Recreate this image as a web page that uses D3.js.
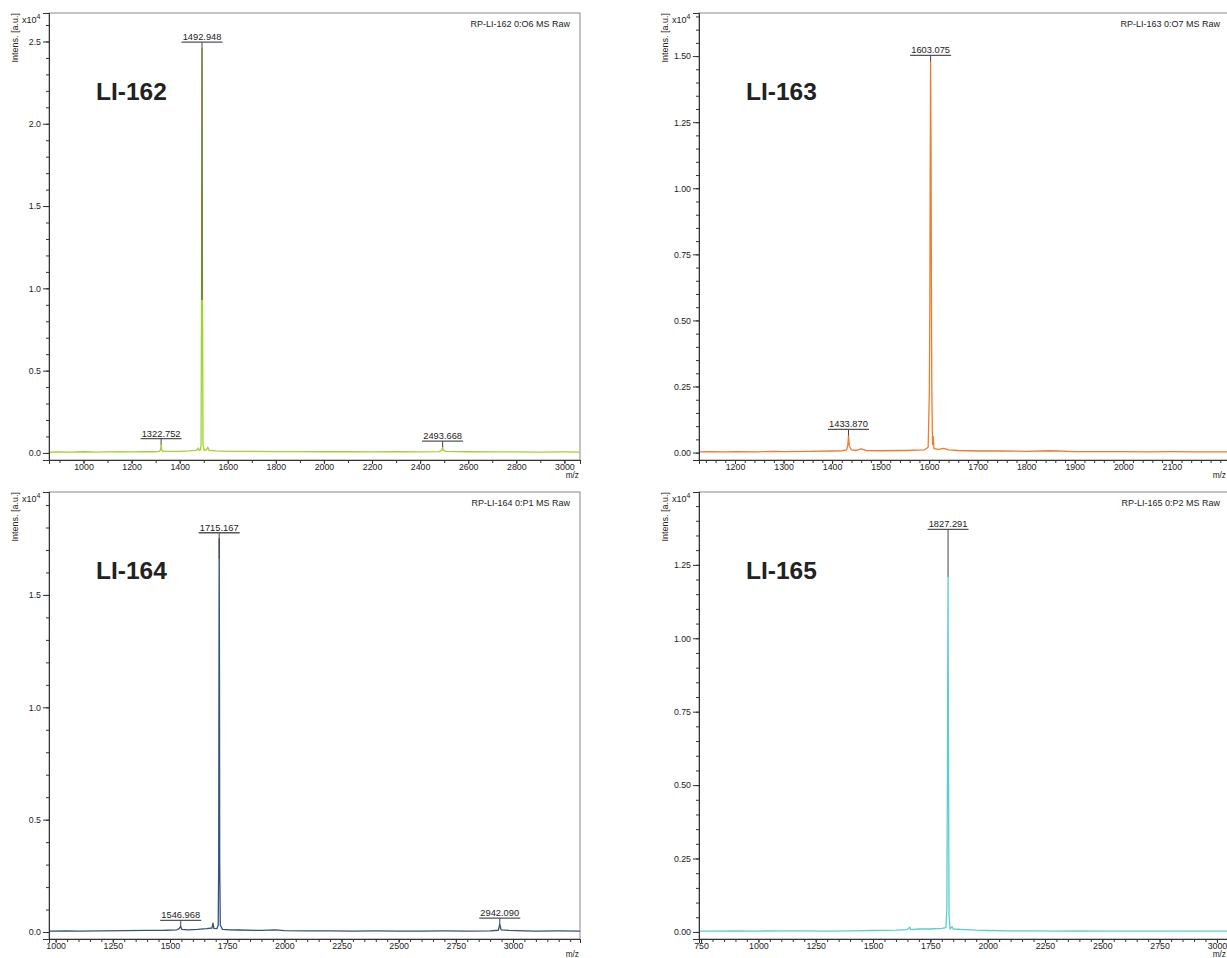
<!DOCTYPE html>
<html>
<head>
<meta charset="utf-8">
<script src="https://cdn.jsdelivr.net/npm/d3@7"></script>
<style>
  body { margin: 0; background: #fff; }
  svg text { font-family: "Liberation Sans", Arial, sans-serif; fill: #222; }
</style>
</head>
<body>
<div id="chart"></div>
<script>
// ---- data, intensities in x10^4 a.u. ----
var names = ["LI-162", "LI-163", "LI-164", "LI-165"];
var titles = ["RP-LI-162 0:O6 MS Raw", "RP-LI-163 0:O7 MS Raw", "RP-LI-164 0:P1 MS Raw", "RP-LI-165 0:P2 MS Raw"];
var colors = ["#a3d12e", "#f07b2c", "#34547a", "#55d0cf"];

var spec162 = [[857,0.005],[900,0.006],[950,0.005],[1000,0.007],[1050,0.005],[1100,0.006],[1150,0.007],[1200,0.006],
  [1250,0.008],[1290,0.007],[1316,0.009],[1320,0.02],[1322.8,0.05],[1325,0.018],[1330,0.01],[1360,0.009],[1400,0.01],
  [1440,0.012],[1470,0.015],[1478,0.03],[1481,0.014],[1487,0.02],[1489,0.06],[1490.8,0.93],[1492.9,2.46],[1495,0.93],
  [1497,0.05],[1502,0.015],[1512,0.02],[1517,0.035],[1522,0.016],[1550,0.012],[1600,0.01],[1700,0.009],[1800,0.008],
  [1900,0.008],[2000,0.007],[2100,0.007],[2200,0.006],[2300,0.007],[2400,0.006],[2480,0.008],[2490,0.015],
  [2493.7,0.035],[2497,0.014],[2510,0.009],[2550,0.008],[2600,0.007],[2700,0.006],[2800,0.006],[2900,0.005],
  [3000,0.006],[3065,0.005]];
var spec163 = [[1126,0.003],[1150,0.004],[1180,0.003],[1200,0.004],[1250,0.003],[1280,0.005],[1300,0.004],[1350,0.005],
  [1400,0.006],[1420,0.007],[1430,0.01],[1432.5,0.03],[1433.9,0.065],[1435.5,0.025],[1440,0.01],[1450,0.008],
  [1460,0.014],[1470,0.008],[1500,0.007],[1550,0.008],[1590,0.01],[1598,0.02],[1600.5,0.23],[1601.5,0.57],
  [1602.3,1.1],[1603.1,1.48],[1604,1.1],[1604.8,0.57],[1605.6,0.23],[1607,0.03],[1608.5,0.06],[1610,0.015],
  [1620,0.012],[1630,0.016],[1640,0.01],[1660,0.008],[1700,0.006],[1750,0.006],[1800,0.005],[1850,0.007],
  [1900,0.004],[1950,0.004],[2000,0.004],[2050,0.003],[2100,0.004],[2150,0.003],[2220,0.003]];
var spec164 = [[971,0.004],[1050,0.005],[1100,0.004],[1200,0.005],[1300,0.006],[1400,0.007],[1480,0.008],[1530,0.01],
  [1540,0.015],[1547,0.025],[1552,0.012],[1580,0.01],[1620,0.012],[1660,0.015],[1684,0.018],[1688,0.04],[1692,0.016],
  [1705,0.015],[1711,0.03],[1713,0.3],[1714,1.0],[1715.2,1.75],[1716.4,1.19],[1717.5,0.3],[1720,0.03],[1730,0.012],
  [1760,0.01],[1800,0.009],[1900,0.007],[1960,0.01],[2000,0.006],[2100,0.005],[2200,0.005],[2300,0.004],[2400,0.005],
  [2500,0.004],[2600,0.004],[2700,0.005],[2800,0.004],[2900,0.005],[2936,0.008],[2942.1,0.035],[2948,0.01],
  [2980,0.007],[3050,0.005],[3100,0.004],[3200,0.005],[3293,0.004]];
var spec165 = [[741,0.003],[800,0.003],[900,0.004],[1000,0.003],[1100,0.004],[1200,0.004],[1300,0.003],[1400,0.004],
  [1500,0.005],[1600,0.006],[1650,0.008],[1660,0.016],[1665,0.008],[1700,0.01],[1750,0.01],[1800,0.012],[1818,0.015],
  [1822,0.08],[1824.5,0.53],[1827.3,1.21],[1829.5,0.53],[1831.5,0.06],[1836,0.01],[1845,0.018],[1850,0.01],
  [1900,0.008],[1950,0.006],[2000,0.005],[2100,0.004],[2200,0.004],[2300,0.003],[2400,0.004],[2500,0.003],
  [2600,0.003],[2700,0.003],[2800,0.003],[2900,0.003],[3000,0.003],[3057,0.003]];

var peakMz162 = [1322.752, 1492.948, 2493.668], peakTop162 = [0.05, 2.46, 0.035], stemEnd162 = [0.05, 0.93, 0.035];
var peakMz163 = [1433.870, 1603.075], peakTop163 = [0.065, 1.48], stemEnd163 = [0.065, 1.48];
var peakMz164 = [1546.968, 1715.167, 2942.090], peakTop164 = [0.025, 1.75, 0.035], stemEnd164 = [0.025, 1.66, 0.035];
var peakMz165 = [1827.291], peakTop165 = [1.35], stemEnd165 = [1.21];

var xTicks162 = [1000, 1200, 1400, 1600, 1800, 2000, 2200, 2400, 2600, 2800, 3000];
var xTicks163 = [1200, 1300, 1400, 1500, 1600, 1700, 1800, 1900, 2000, 2100];
var xTicks164 = [1000, 1250, 1500, 1750, 2000, 2250, 2500, 2750, 3000];
var xTicks165 = [750, 1000, 1250, 1500, 1750, 2000, 2250, 2500, 2750, 3000];
var yTicks162 = [0, 0.5, 1.0, 1.5, 2.0, 2.5];
var yTicks163 = [0, 0.25, 0.5, 0.75, 1.0, 1.25, 1.5];
var yTicks164 = [0, 0.5, 1.0, 1.5];
var yTicks165 = [0, 0.25, 0.5, 0.75, 1.0, 1.25];

// ---- layout ----
var svg = d3.select("#chart").append("svg")
  .attr("width", 1227).attr("height", 958);

var panels = [
  { spec: spec162, mz: peakMz162, top: peakTop162, stem: stemEnd162, xt: xTicks162, yt: yTicks162,
    xd: [856.5, 3065], yd: [-0.043, 2.673], xMinor: 100, yMinor: 0.1, fmt: ".1f", left: 49, row: 0 },
  { spec: spec163, mz: peakMz163, top: peakTop163, stem: stemEnd163, xt: xTicks163, yt: yTicks163,
    xd: [1125.8, 2220], yd: [-0.028, 1.663], xMinor: 20, yMinor: 0.05, fmt: ".2f", left: 699, row: 0 },
  { spec: spec164, mz: peakMz164, top: peakTop164, stem: stemEnd164, xt: xTicks164, yt: yTicks164,
    xd: [971, 3293], yd: [-0.031, 1.958], xMinor: 50, yMinor: 0.1, fmt: ".1f", left: 49, row: 1 },
  { spec: spec165, mz: peakMz165, top: peakTop165, stem: stemEnd165, xt: xTicks165, yt: yTicks165,
    xd: [741, 3057], yd: [-0.024, 1.498], xMinor: 50, yMinor: 0.05, fmt: ".2f", left: 699, row: 1 }
];

var plotW = 531;
var rowTop = [13, 492], rowAxis = [460, 939];

panels.forEach(function (p, i) {
  var top = rowTop[p.row], bottom = rowAxis[p.row];
  var x = d3.scaleLinear().domain(p.xd).range([p.left, p.left + plotW]);
  var y = d3.scaleLinear().domain(p.yd).range([bottom, top]);
  var g = svg.append("g");

  // frame: grey top/right, dark axes
  g.append("rect").attr("x", p.left).attr("y", top).attr("width", plotW).attr("height", bottom - top)
    .attr("fill", "none").attr("stroke", "#8a8a8a").attr("stroke-width", 1);

  // spectrum
  var line = d3.line().x(function (d) { return x(d[0]); }).y(function (d) { return y(d[1]); });
  g.append("path").datum(p.spec).attr("d", line)
    .attr("fill", "none").attr("stroke", colors[i]).attr("stroke-width", 1.3).attr("stroke-linejoin", "round");

  // y axis
  var yMinorVals = d3.range(0, p.yd[1], p.yMinor);
  g.append("g").attr("transform", "translate(" + p.left + ",0)")
    .call(d3.axisLeft(y).tickValues(yMinorVals).tickSize(3).tickFormat(""));
  g.append("g").attr("transform", "translate(" + p.left + ",0)")
    .call(d3.axisLeft(y).tickValues(p.yt).tickSize(6).tickPadding(2).tickFormat(d3.format(p.fmt)));

  // x axis
  var first = Math.ceil(p.xd[0] / p.xMinor) * p.xMinor;
  var xMinorVals = d3.range(first, p.xd[1], p.xMinor);
  g.append("g").attr("transform", "translate(0," + bottom + ")")
    .call(d3.axisBottom(x).tickValues(xMinorVals).tickSize(3).tickFormat(""));
  g.append("g").attr("transform", "translate(0," + bottom + ")")
    .call(d3.axisBottom(x).tickValues(p.xt).tickSize(4).tickPadding(0).tickFormat(d3.format("d")));

  g.selectAll(".domain").attr("stroke", "#333");
  g.selectAll(".tick line").attr("stroke", "#333");
  g.selectAll(".tick text").attr("font-size", "8.8px").attr("fill", "#222")
    .style("font-family", "'Liberation Sans', Arial, sans-serif");

  // peak labels
  p.mz.forEach(function (m, k) {
    var px = x(m), py = y(p.top[k]);
    var uy = py - 6;
    g.append("line").attr("x1", px).attr("x2", px).attr("y1", uy).attr("y2", Math.max(py, y(p.stem[k])))
      .attr("stroke", "#444").attr("stroke-width", 1);
    g.append("line").attr("x1", px - 20.5).attr("x2", px + 20.5).attr("y1", uy).attr("y2", uy)
      .attr("stroke", "#555").attr("stroke-width", 1.3);
    g.append("text").attr("x", px).attr("y", uy - 2).attr("text-anchor", "middle")
      .attr("font-size", "9.3px").text(d3.format(".3f")(m));
  });

  // texts
  g.append("text").attr("x", p.left + plotW - 10).attr("y", top + 13.5).attr("text-anchor", "end")
    .attr("font-size", "9px").text(titles[i]);
  g.append("text").attr("x", p.left + 47).attr("y", top + 87).attr("font-size", "24.5px")
    .attr("font-weight", "bold").attr("fill", "#111").text(names[i]);
  var mag = g.append("text").attr("x", p.left - 27).attr("y", top + 10).attr("font-size", "9px");
  mag.append("tspan").text("x10");
  mag.append("tspan").attr("dy", -4).attr("font-size", "7px").text("4");
  g.append("text").attr("transform", "translate(" + (p.left - 31.5) + "," + top + ") rotate(-90)")
    .attr("text-anchor", "end").attr("font-size", "9px").text("Intens. [a.u.]");
  g.append("text").attr("x", Math.min(p.left + plotW - 1, 1226)).attr("y", bottom + 18).attr("text-anchor", "end")
    .attr("font-size", "8.3px").text("m/z");
});
</script>
</body>
</html>
